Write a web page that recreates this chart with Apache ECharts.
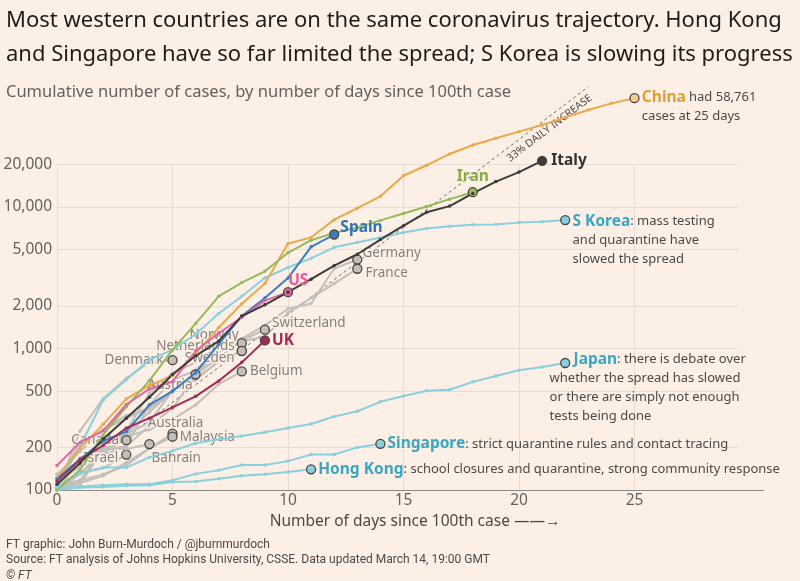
<!DOCTYPE html>
<html><head><meta charset="utf-8">
<script src="https://cdn.jsdelivr.net/npm/echarts@6/dist/echarts.min.js"></script>
<style>html,body{margin:0;padding:0;background:#fcf0e6}#c{width:800px;height:581px}</style>
</head><body><div id="c"></div><script>
// ---------- data ----------
const yTicks = [100, 200, 500, 1000, 2000, 5000, 10000, 20000];
const xTicks = [0, 5, 10, 15, 20, 25];
const guideStart = [0, 100];      // 33% daily increase guide
const guideEnd = [23, 70600];

const china = [121,198,291,440,548,643,920,1406,2075,2877,5509,6087,8141,9802,11891,16630,19716,23707,27440,30587,34110,38000,43000,48500,54000,58761];
const italy = [110,155,229,322,453,655,888,1128,1694,2036,2502,3089,3858,4636,5883,7375,9172,10149,12462,15113,17660,21157];
const iran = [100,139,245,388,593,978,1501,2336,2922,3513,4747,5823,6566,7161,8042,9000,10075,11364,12729];
const skorea = [104,204,433,602,833,977,1261,1766,2337,3150,3736,4335,5186,5621,6088,6593,7041,7314,7478,7513,7755,7869,8086];
const spain = [120,165,222,259,400,500,673,1073,1695,2277,3146,5232,6391];
const us = [149,217,262,402,518,583,959,1281,1663,2179,2500];
const uk = [116,164,207,274,322,384,459,590,798,1140];
const germany = [130,159,196,262,482,670,799,1040,1176,1457,1908,2078,3675,4250];
const france = [100,130,191,204,285,377,653,949,1126,1209,1784,2281,2876,3661];
const switzerland = [114,214,268,337,374,491,652,858,1139,1359];
const norway = [113,147,176,205,400,598,702,996,1090];
const netherlands = [128,188,265,321,382,503,614,804,959];
const sweden = [101,161,203,248,355,500,599,814,961];
const denmark = [100,262,442,615,801,827];
const belgium = [109,169,200,239,267,314,399,559,689];
const austria = [104,131,182,246,302,504,655];
const australia = [100,112,126,156,197,250];
const malaysia = [100,117,129,149,197,238];
const canada = [108,117,193,225];
const israel = [109,131,143,178];
const bahrain = [109,110,195,195,211];
const japan = [105,132,144,144,170,189,214,228,241,256,274,293,331,360,420,461,502,511,581,639,701,740,790];
const singapore = [102,106,108,110,110,117,130,138,150,150,160,178,178,200,212];
const hongkong = [100,104,105,107,108,114,115,120,126,129,134,140];

// ---------- styles ----------
const BG = '#fcf0e6';
const F = "'Noto Sans', sans-serif";
const FN = "'Liberation Sans Narrow', 'Roboto', sans-serif";
const TXT = '#4d4845';
const GRID = '#e7dcd3';
const GRAY = '#c3beb9';
const LBLUE = '#8ad0dc';
const TEAL = '#3aa6bf';
const EDGE = '#4a4541';

const grayLbl = {color: '#857f7a', fontSize: 13.5, fontFamily: F, textBorderColor: BG, textBorderWidth: 3};
const richBase = (c) => ({
  n: {color: c, fontSize: 15.5, fontWeight: 'bold', fontFamily: F, lineHeight: 19},
  t: {color: TXT, fontSize: 13, fontFamily: F, lineHeight: 19},
  sp: {width: 24, lineHeight: 19}
});

function makeSeries(values, st) {
  const last = values.length - 1;
  return {
    type: 'line', z: st.z || 3, silent: true, animation: false,
    lineStyle: {color: st.color, width: st.width || 2},
    itemStyle: {color: st.color},
    symbol: 'circle', symbolSize: st.dot || 3.5, showAllSymbol: true,
    emphasis: {disabled: true},
    data: values.map((v, i) => i === last ? {
      value: [i, v], symbolSize: 9,
      itemStyle: {color: st.fill || st.color, borderColor: EDGE, borderWidth: 1.3},
      label: Object.assign({show: true}, st.label)
    } : [i, v])
  };
}

function grayS(values, name, pos, dist, off) {
  return makeSeries(values, {color: GRAY, z: 2, fill: GRAY,
    label: Object.assign({}, grayLbl, {formatter: name, position: pos, distance: dist, offset: off || [0, 0]})});
}

const series = [];
// gridlines + axis labels via markLine on the library's scales
const gl = [];
const lblStyle = {color: '#66605c', fontSize: 15.5, fontFamily: F};
yTicks.forEach(v => {
  const end = v === 100 ? 30.6 : 29.5;
  const ls = v === 100 ? {color: '#8c8782', width: 1.2, type: 'solid'} : {color: GRID, width: 1, type: 'solid'};
  const txt = v.toLocaleString('en-US');
  gl.push([{coord: [0, v], lineStyle: ls, label: Object.assign({show: true, position: 'start', distance: 5, formatter: txt}, lblStyle)}, {coord: [end, v]}]);
  gl.push([{coord: [0, v], lineStyle: {opacity: 0}, label: Object.assign({show: true, position: 'end', distance: 6, formatter: txt}, lblStyle)}, {coord: [end, v]}]);
});
xTicks.forEach(x => {
  gl.push([{coord: [x, yTicks[0]], lineStyle: {color: GRID, width: 1, type: 'solid'}, label: {show: false}}, {coord: [x, yTicks[yTicks.length - 1]]}]);
});
series.push({type: 'line', data: [], silent: true,
  markLine: {silent: true, z: 0, symbol: ['none', 'none'], animation: false, data: gl}});
// 33% guide
series.push({type: 'line', data: [], silent: true,
  markLine: {silent: true, z: 1, symbol: ['none', 'none'], animation: false,
    data: [[{coord: guideStart, lineStyle: {color: '#6f6a66', width: 1, type: [3, 3]},
      label: {show: true, position: 'insideEndBottom', distance: 4, formatter: '33% DAILY INCREASE', color: TXT, fontSize: 10.5, fontFamily: F}},
      {coord: guideEnd}]]}});

// gray countries
series.push(grayS(germany, 'Germany', 'right', 0, [0, -6]));
series.push(grayS(france, 'France', 'right', 3, [0, 4]));
series.push(grayS(switzerland, 'Switzerland', 'right', 2, [0, -6]));
series.push(grayS(norway, 'Norway', 'left', 5, [7, -8]));
series.push(grayS(netherlands, 'Netherlands', 'left', 2, [0, -5]));
series.push(grayS(sweden, 'Sweden', 'left', 2, [0, 7]));
series.push(grayS(denmark, 'Denmark', 'left', 4, [0, 0]));
series.push(grayS(belgium, 'Belgium', 'right', 3, [0, 0]));
series.push(grayS(austria, 'Austria', 'left', 5, [7, 11]));
series.push(grayS(australia, 'Australia', 'top', 5, [3, 7]));
series.push(grayS(malaysia, 'Malaysia', 'right', 2, [0, 0]));
series.push(grayS(canada, 'Canada', 'left', 2, [0, 0]));
series.push(grayS(israel, 'Israel', 'left', 3, [0, 4]));
series.push(grayS(bahrain, 'Bahrain', 'right', 5, [-8, 14]));

// light blue
series.push(makeSeries(hongkong, {color: LBLUE, label: {position: 'right', distance: 2,
  formatter: '{n|Hong Kong}{t|: school closures and quarantine, strong community response}', rich: richBase(TEAL)}}));
series.push(makeSeries(singapore, {color: LBLUE, label: {position: 'right', distance: 2,
  formatter: '{n|Singapore}{t|: strict quarantine rules and contact tracing}', rich: richBase(TEAL)}}));
series.push(makeSeries(japan, {color: LBLUE, label: {position: [-10.5, -8], align: 'left', verticalAlign: 'top',
  formatter: '{sp|}{n|Japan}{t|: there is debate over}\n{t|whether the spread has slowed}\n{t|or there are simply not enough}\n{t|tests being done}', rich: richBase(TEAL)}}));
series.push(makeSeries(skorea, {color: LBLUE, label: {position: [12.5, -3], align: 'left', verticalAlign: 'top',
  formatter: '{n|S Korea}{t|: mass testing}\n{t|and quarantine have}\n{t|slowed the spread}', rich: richBase(TEAL)}}));

// coloured
series.push(makeSeries(china, {color: '#eaa84c', fill: '#f3cb8e', label: {position: [12.5, -5], align: 'left', verticalAlign: 'top',
  formatter: '{n|China} {t|had 58,761}\n{t|cases at 25 days}', rich: richBase('#e39d33')}}));
series.push(makeSeries(iran, {color: '#96b95c', label: {position: 'top', distance: 1,
  formatter: '{n|Iran}', rich: richBase('#86aa48')}}));
series.push(makeSeries(spain, {color: '#3b7dbf', label: {position: 'right', distance: 1, offset: [0, -7],
  formatter: '{n|Spain}', rich: richBase('#2f73b5')}}));
series.push(makeSeries(us, {color: '#e066a1', label: {position: 'right', distance: 5, offset: [-10, -12],
  formatter: '{n|US}', rich: richBase('#e35a9e')}}));
series.push(makeSeries(uk, {color: '#a02c57', label: {position: 'right', distance: 2,
  formatter: '{n|UK}', rich: richBase('#a2295a')}}));
series.push(makeSeries(italy, {color: '#3e3c3a', label: {position: 'right', distance: 4,
  formatter: '{n|Italy}', rich: richBase('#33302e')}}));

const option = {
  backgroundColor: BG,
  animation: false,
  textStyle: {fontFamily: F},
  title: [
    {text: 'Most western countries are on the same coronavirus trajectory. Hong Kong\nand Singapore have so far limited the spread; S Korea is slowing its progress',
     left: 1, top: -1, textStyle: {fontSize: 22, fontWeight: 'normal', color: '#1f1c1a', lineHeight: 34, fontFamily: F}},
    {text: 'Cumulative number of cases, by number of days since 100th case',
     left: 1, top: 76, textStyle: {fontSize: 16.5, fontWeight: 'normal', color: '#66605c', lineHeight: 22, fontFamily: F}},
    {text: '{a|FT graphic: John Burn-Murdoch / @jburnmurdoch}\n{a|Source: FT analysis of Johns Hopkins University, CSSE. Data updated March 14, 19:00 GMT}\n{i|© FT}',
     left: 1, top: 532, textStyle: {fontWeight: 'normal', rich: {
       a: {fontSize: 12, color: TXT, fontFamily: FN, fontWeight: 'normal', lineHeight: 15.5},
       i: {fontSize: 12, color: TXT, fontFamily: FN, fontWeight: 'normal', fontStyle: 'italic', lineHeight: 15.5}}}}
  ],
  grid: {left: 57, right: 26.9, top: 65.5, bottom: 91, containLabel: false},
  xAxis: {type: 'value', min: 0, max: 31, interval: 5,
    name: 'Number of days since 100th case ——→', nameLocation: 'middle', nameGap: 22,
    nameTextStyle: {fontSize: 15.5, color: '#4d4845', fontFamily: F},
    axisLine: {show: false}, axisTick: {show: false}, splitLine: {show: false},
    axisLabel: {margin: 3, fontSize: 15.5, color: '#66605c', fontFamily: F,
      formatter: v => (xTicks.indexOf(v) >= 0 ? String(v) : '')}},
  yAxis: {type: 'log', logBase: 10, min: 100, max: 100000,
    axisLine: {show: false}, axisTick: {show: false}, splitLine: {show: false}, axisLabel: {show: false}},
  series: series
};
const chart = echarts.init(document.getElementById('c'));
chart.setOption(option);
</script></body></html>
